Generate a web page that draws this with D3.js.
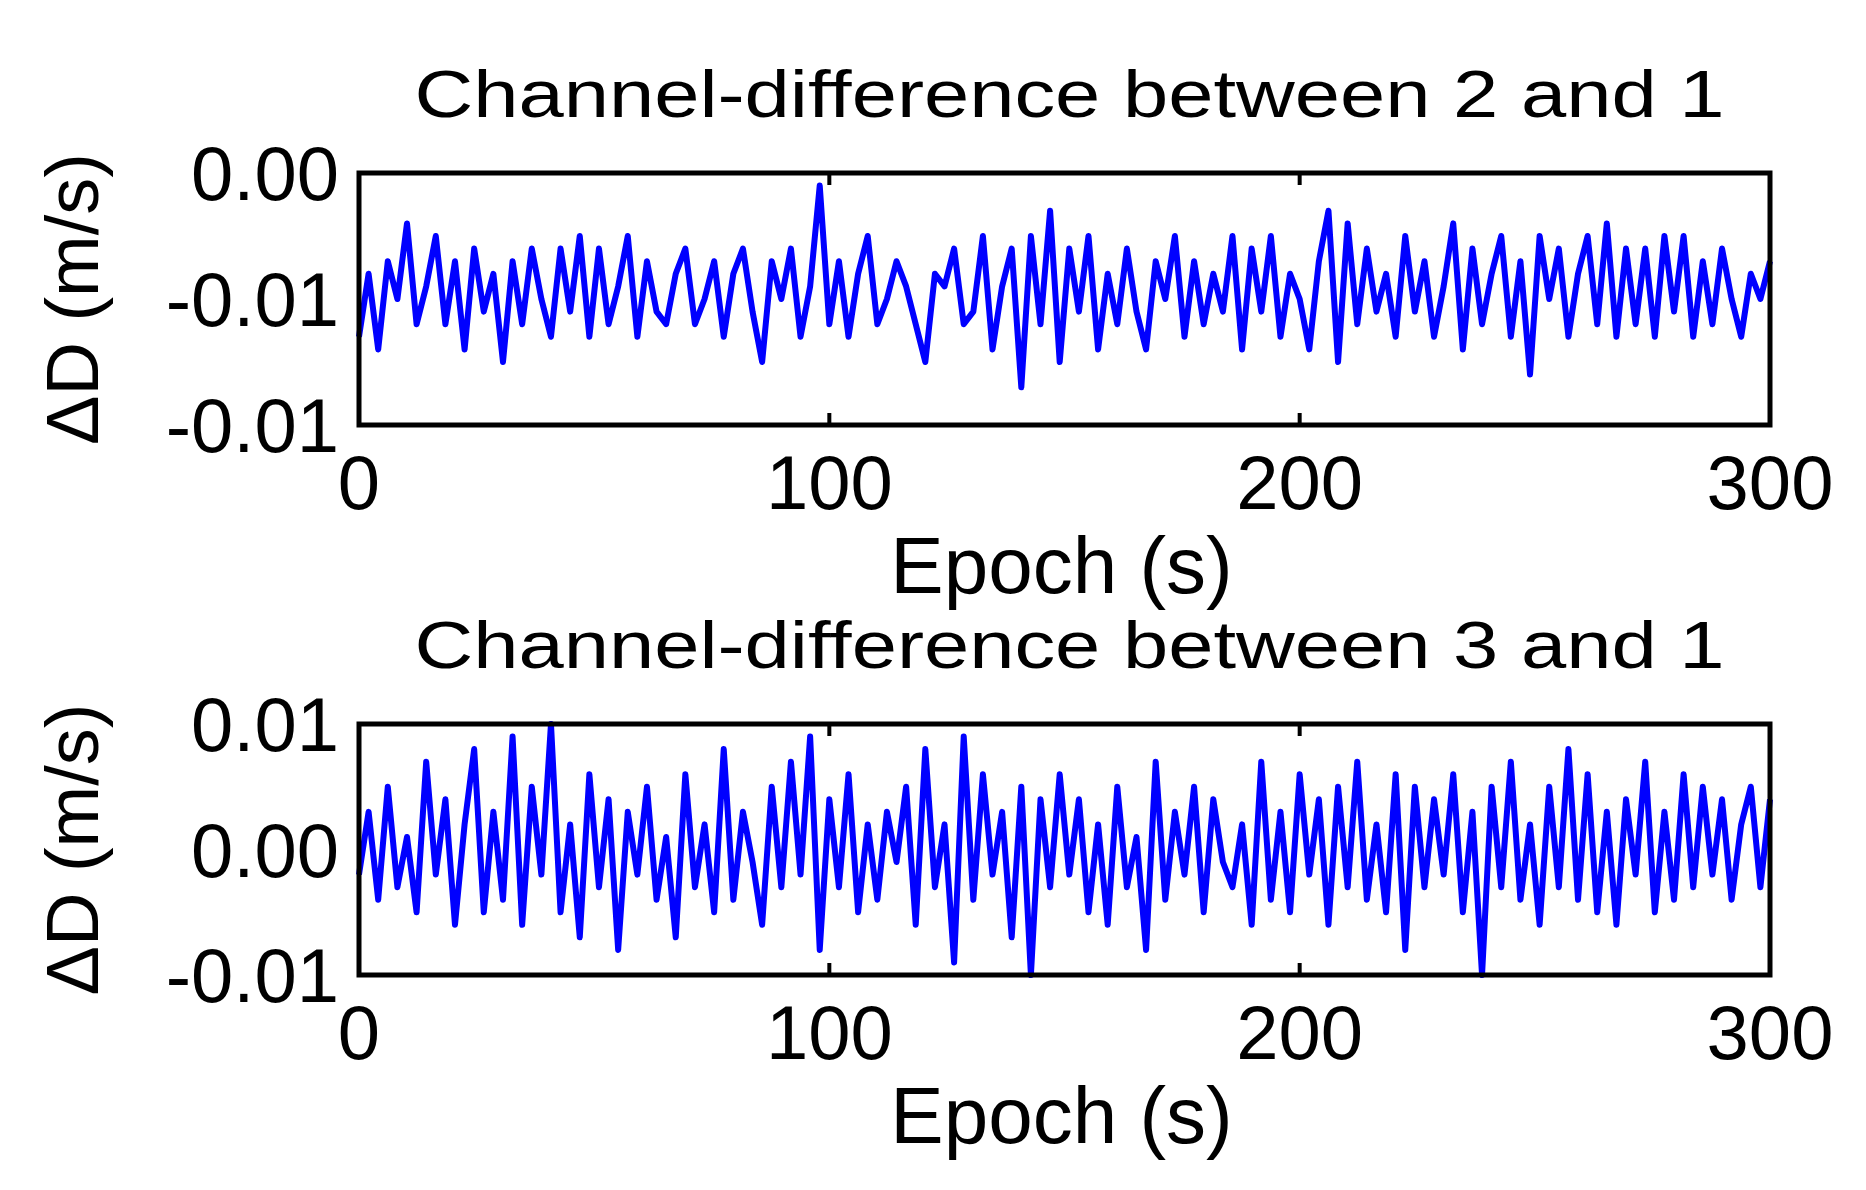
<!DOCTYPE html><html><head><meta charset="utf-8">
<script src="https://cdn.jsdelivr.net/npm/d3@7"></script>
<style>body{margin:0;background:#fff}text{font-family:"Liberation Sans",Arial,sans-serif;fill:#000}</style></head><body>
<svg id="c" width="1866" height="1190"></svg>
<script>
const xTicks=[0,100,200,300];
const titles=["Channel-difference between 2 and 1","Channel-difference between 3 and 1"];
const yTicks1=[0,-0.005,-0.01];
const yTicks2=[0.01,0,-0.01];
const series1=[-6.5,-4,-7,-3.5,-5,-2,-6,-4.5,-2.5,-6,-3.5,-7,-3,-5.5,-4,-7.5,-3.5,-6,-3,-5,-6.5,-3,-5.5,-2.5,-6.5,-3,-6,-4.5,-2.5,-6.5,-3.5,-5.5,-6,-4,-3,-6,-5,-3.5,-6.5,-4,-3,-5.5,-7.5,-3.5,-5,-3,-6.5,-4.5,-0.5,-6,-3.5,-6.5,-4,-2.5,-6,-5,-3.5,-4.5,-6,-7.5,-4,-4.5,-3,-6,-5.5,-2.5,-7,-4.5,-3,-8.5,-2.5,-6,-1.5,-7.5,-3,-5.5,-2.5,-7,-4,-6,-3,-5.5,-7,-3.5,-5,-2.5,-6.5,-3.5,-6,-4,-5.5,-2.5,-7,-3,-5.5,-2.5,-6.5,-4,-5,-7,-3.5,-1.5,-7.5,-2,-6,-3,-5.5,-4,-6.5,-2.5,-5.5,-3.5,-6.5,-4.5,-2,-7,-3,-6,-4,-2.5,-6.5,-3.5,-8,-2.5,-5,-3,-6.5,-4,-2.5,-6,-2,-6.5,-3,-6,-3,-6.5,-2.5,-5.5,-2.5,-6.5,-3.5,-6,-3,-5,-6.5,-4,-5,-3.5];
const series2=[-2,3,-4,5,-3,1,-5,7,-2,4,-6,2,8,-5,3,-4,9,-6,5,-2,10,-5,2,-7,6,-3,4,-8,3,-2,5,-4,1,-7,6,-3,2,-5,8,-4,3,-1,-6,5,-3,7,-2,9,-8,4,-3,6,-5,2,-4,3,-1,5,-6,8,-3,2,-9,9,-4,6,-2,3,-7,5,-10,4,-3,6,-2,4,-5,2,-6,5,-3,1,-8,7,-4,3,-2,5,-5,4,-1,-3,2,-6,7,-4,3,-5,6,-2,4,-6,5,-3,7,-4,2,-5,6,-8,5,-3,4,-2,6,-5,3,-10,5,-3,7,-4,2,-6,5,-3,8,-4,6,-5,3,-6,4,-2,7,-5,3,-4,6,-3,5,-2,4,-4,2,5,-3,4];
const svg=d3.select("#c");
const L=359,R=1770;
const panels=[{top:173,bot:425,dom:[-0.01,0],data:series1,ticks:yTicks1,title:titles[0]},
              {top:724,bot:975,dom:[-0.01,0.01],data:series2,ticks:yTicks2,title:titles[1]}];
panels.forEach(p=>{
  const x=d3.scaleLinear().domain([0,300]).range([L,R]);
  const y=d3.scaleLinear().domain(p.dom).range([p.bot,p.top]);
  const g=svg.append("g");
  const n=p.data.length;
  const pts=p.data.map((v,i)=>[i*300/(n-1),v*1e-3]);
  g.append("path").datum(pts).attr("fill","none").attr("stroke","#0000ff").attr("stroke-width",6).attr("stroke-linejoin","round")
   .attr("d",d3.line().x(d=>x(d[0])).y(d=>y(d[1])));
  g.append("rect").attr("x",L).attr("y",p.top).attr("width",R-L).attr("height",p.bot-p.top)
   .attr("fill","none").attr("stroke","#000").attr("stroke-width",5);
  xTicks.forEach(t=>{
    g.append("line").attr("x1",x(t)).attr("x2",x(t)).attr("y1",p.bot).attr("y2",p.bot-12).attr("stroke","#000").attr("stroke-width",4);
    g.append("line").attr("x1",x(t)).attr("x2",x(t)).attr("y1",p.top).attr("y2",p.top+12).attr("stroke","#000").attr("stroke-width",4);
    g.append("text").attr("x",x(t)).attr("y",p.bot+84).attr("text-anchor","middle").attr("font-size",76).text(t);
  });
  p.ticks.forEach(t=>{
    g.append("text").attr("x",L-20).attr("y",y(t)+27).attr("text-anchor","end").attr("font-size",76).text(d3.format(".2f")(t).replace("−","-"));
  });
  g.append("text").attr("x",(L+R)/2+5).attr("y",p.top-56).attr("text-anchor","middle").attr("font-size",66)
   .attr("textLength",1310).attr("lengthAdjust","spacingAndGlyphs").text(p.title);
  g.append("text").attr("x",(L+R)/2-3).attr("y",p.bot+168).attr("text-anchor","middle").attr("font-size",80).text("Epoch (s)");
  g.append("text").attr("transform",`translate(98,${(p.top+p.bot)/2}) rotate(-90)`).attr("text-anchor","middle").attr("font-size",74).text("ΔD (m/s)");
});
</script></body></html>
